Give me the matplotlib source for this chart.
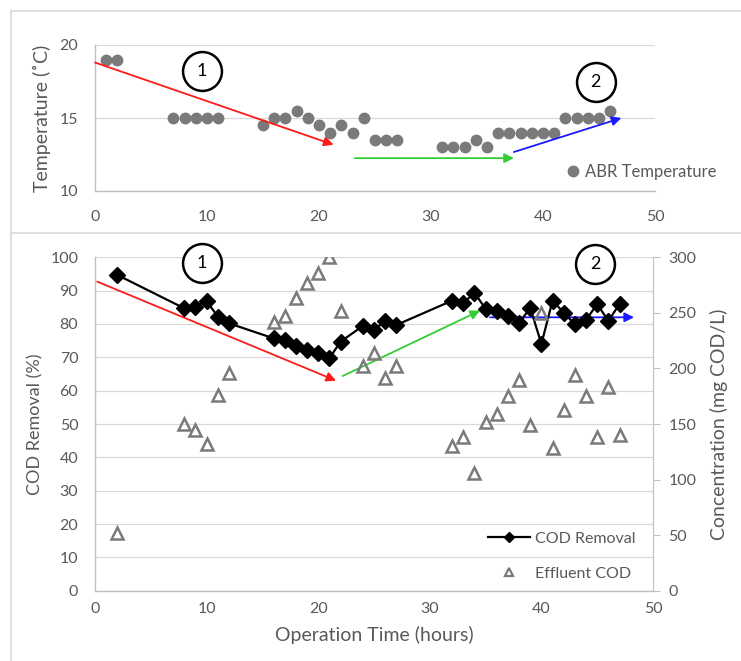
import matplotlib.pyplot as plt
from matplotlib.lines import Line2D

plt.rcParams['font.family'] = ['Lato', 'DejaVu Sans']

# temperature (top panel)
TEMP_HOURS = [1, 2, 7, 8, 9, 10, 11, 15, 16, 17, 18, 19, 20, 21, 22, 23, 24, 25, 26, 27,
              31, 32, 33, 34, 35, 36, 37, 38, 39, 40, 41, 42, 43, 44, 45, 46]
TEMP_C = [19, 19, 15, 15, 15, 15, 15, 14.5, 15, 15, 15.5, 15, 14.5, 14, 14.5, 14, 15, 13.5, 13.5, 13.5,
          13, 13, 13, 13.5, 13, 14, 14, 14, 14, 14, 14, 15, 15, 15, 15, 15.5]

# COD (bottom panel)
COD_HOURS = [2, 8, 9, 10, 11, 12, 16, 17, 18, 19, 20, 21, 22, 24, 25, 26, 27,
             32, 33, 34, 35, 36, 37, 38, 39, 40, 41, 42, 43, 44, 45, 46, 47]
COD_REMOVAL = [94.7, 84.7, 85.2, 86.9, 82.2, 80.2, 75.7, 75.2, 73.4, 72.2, 71.2, 69.7, 74.7, 79.4, 78.2, 80.9, 79.7,
               87.0, 86.2, 89.4, 84.5, 84.0, 82.4, 80.2, 84.9, 74.0, 87.0, 83.4, 79.9, 81.2, 86.0, 80.9, 86.0]
EFFLUENT_COD = [52, 150, 145, 132, 176, 196, 242, 247, 263, 277, 286, 300, 252, 202, 214, 191, 202,
                130, 138, 106, 152, 159, 175, 190, 149, 250, 128, 163, 194, 175, 138, 183, 140]

# trend arrows (start, end, colour) and phase markers
TOP_ARROWS = [((0, 18.8), (21.3, 13.17), '#ff1a1a'),
              ((23.2, 12.25), (37.4, 12.25), '#33cc33'),
              ((37.4, 12.67), (47.0, 15.0), '#1a1aff')]
BOT_ARROWS = [((0.2, 92.7), (21.6, 63.0), '#ff1a1a'),
              ((22.2, 64.4), (34.5, 84.0), '#33cc33'),
              ((35.4, 82.0), (48.3, 82.0), '#1a1aff')]
TOP_PHASES = [(9.55, 18.2, '1'), (44.7, 17.45, '2')]
BOT_PHASES = [(9.6, 98.2, '1'), (44.8, 98.0, '2')]

TXT = '#595959'
GRID = '#d9d9d9'
SPINE = '#bfbfbf'
DOT = '#7a7a7a'


def style_axis(ax, xpad):
    for side in ('top', 'right'):
        ax.spines[side].set_visible(False)
    for side in ('left', 'bottom'):
        ax.spines[side].set_color(SPINE)
        ax.spines[side].set_linewidth(1.0)
    ax.tick_params(length=0, labelsize=11.5, labelcolor=TXT)
    ax.tick_params(axis='y', pad=12)
    ax.tick_params(axis='x', pad=xpad)
    ax.grid(axis='y', color=GRID, linewidth=0.9)
    ax.set_axisbelow(True)


def draw_arrows(ax, arrows):
    for start, end, color in arrows:
        ax.annotate('', xy=end, xytext=start,
                    arrowprops=dict(arrowstyle='-|>', color=color, lw=1.3,
                                    mutation_scale=14, shrinkA=0, shrinkB=0))


def draw_phases(ax, phases):
    for x, y, label in phases:
        ax.plot(x, y, 'o', ms=28, mfc='white', mec='black', mew=1.8, clip_on=False, zorder=5)
        ax.text(x, y, label, ha='center', va='center', fontsize=13, zorder=6)


def main():
    fig = plt.figure(figsize=(7.41, 6.61), dpi=100)

    # panel frame lines
    for xs, ys in (([11 / 741, 1], [1 - 11 / 661] * 2),
                   ([11 / 741] * 2, [1 - 11 / 661, 0]),
                   ([11 / 741, 1], [1 - 233 / 661] * 2)):
        fig.add_artist(Line2D(xs, ys, color=GRID, lw=1.2, transform=fig.transFigure))

    # top panel
    ax_t = fig.add_axes([95 / 741, 1 - 191 / 661, 560 / 741, 146 / 661])
    style_axis(ax_t, xpad=14)
    ax_t.plot(TEMP_HOURS, TEMP_C, 'o', ms=7.5, color=DOT, label='ABR Temperature', zorder=3)
    ax_t.set_xlim(0, 50)
    ax_t.set_ylim(10, 20)
    ax_t.set_xticks(range(0, 51, 10))
    ax_t.set_yticks([10, 15, 20])
    ax_t.set_ylabel('Temperature (˚C)', fontsize=14, color=TXT, labelpad=6)
    draw_arrows(ax_t, TOP_ARROWS)
    draw_phases(ax_t, TOP_PHASES)
    ax_t.legend(loc='center left', bbox_to_anchor=(0.845, 0.13), frameon=False,
                fontsize=12, labelcolor=TXT, handlelength=0.6, handletextpad=0.4,
                borderpad=0, borderaxespad=0)

    # bottom panel
    ax_b = fig.add_axes([95 / 741, 1 - 590.7 / 661, 558 / 741, 333.4 / 661])
    style_axis(ax_b, xpad=8)
    ax_b.spines['right'].set_visible(True)
    ax_b.spines['right'].set_color(SPINE)
    ax_b.plot(COD_HOURS, COD_REMOVAL, '-D', color='black', lw=1.6, ms=8, zorder=4)
    ax_b.set_xlim(0, 50)
    ax_b.set_ylim(0, 100)
    ax_b.set_xticks(range(0, 51, 10))
    ax_b.set_yticks(range(0, 101, 10))
    ax_b.set_ylabel('COD Removal (%)', fontsize=13, color=TXT, labelpad=5)
    ax_b.set_xlabel('Operation Time (hours)', fontsize=14, color=TXT, labelpad=7)
    draw_arrows(ax_b, BOT_ARROWS)
    draw_phases(ax_b, BOT_PHASES)

    ax_r = ax_b.twinx()
    for side in ('top', 'left', 'bottom', 'right'):
        ax_r.spines[side].set_visible(False)
    ax_r.plot(COD_HOURS, EFFLUENT_COD, '^', ms=8, mfc='none', mec=DOT, mew=1.8,
              linestyle='none', zorder=3)
    ax_r.set_ylim(0, 300)
    ax_r.set_yticks(range(0, 301, 50))
    ax_r.tick_params(axis='y', length=5, color=SPINE, labelsize=11.5, labelcolor=TXT, pad=6)
    ax_r.set_ylabel('Concentration (mg COD/L)', fontsize=14, color=TXT, labelpad=10)

    # legend handles with the smaller markers used in the key
    key_line = Line2D([], [], color='black', lw=1.6, marker='D', ms=5, label='COD Removal')
    key_tri = Line2D([], [], linestyle='none', marker='^', ms=6, mfc='none', mec=DOT,
                     mew=1.6, label='Effluent COD')
    ax_r.legend(handles=[key_line, key_tri], loc='lower left', bbox_to_anchor=(0.705, 0.03),
                frameon=False, fontsize=11.5, labelcolor=TXT, handlelength=2.6,
                handletextpad=0.3, labelspacing=1.3, borderpad=0, borderaxespad=0)

    fig.savefig('out.png', dpi=100)


if __name__ == '__main__':
    main()
